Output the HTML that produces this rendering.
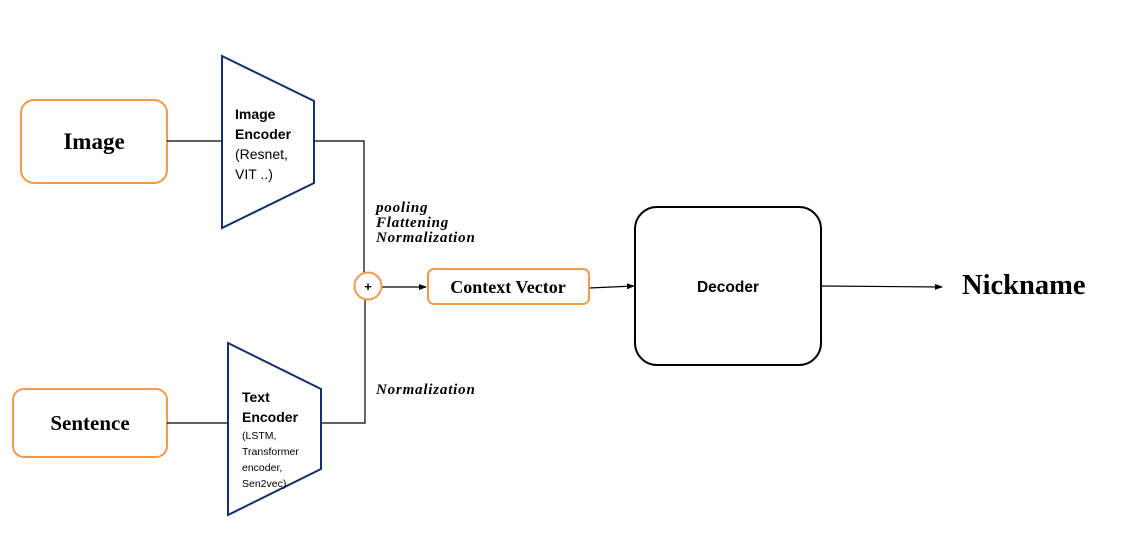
<!DOCTYPE html>
<html><head><meta charset="utf-8"><style>
html,body{margin:0;padding:0;background:#fff;width:1123px;height:545px;overflow:hidden}
svg{display:block}
.serif{font-family:"Liberation Serif",serif;font-weight:bold}
.sans{font-family:"Liberation Sans",sans-serif}
</style></head><body>
<svg width="1123" height="545" viewBox="0 0 1123 545" xmlns="http://www.w3.org/2000/svg">
<defs><marker id="a" markerWidth="8" markerHeight="6" refX="7" refY="3" orient="auto" markerUnits="userSpaceOnUse"><path d="M0,0 L8,3 L0,6 z" fill="#000"/></marker></defs>
<rect x="21" y="100" width="146" height="83" rx="13" fill="#fff" stroke="#f39a4a" stroke-width="2"/>
<text x="94" y="149" class="serif" font-size="23" text-anchor="middle">Image</text>
<rect x="13" y="389" width="154" height="68" rx="11" fill="#fff" stroke="#f39a4a" stroke-width="2"/>
<text x="90" y="430" class="serif" font-size="21" text-anchor="middle">Sentence</text>
<g stroke="#000" stroke-width="1.2" fill="none">
<line x1="167" y1="141" x2="222" y2="141"/>
<polyline points="314,141 364,141 364,273"/>
<line x1="167" y1="423" x2="228" y2="423"/>
<polyline points="321,423 365,423 365,299"/>
<line x1="382" y1="287" x2="426" y2="287" marker-end="url(#a)"/>
<line x1="589" y1="288" x2="634" y2="286" marker-end="url(#a)"/>
<line x1="821" y1="286" x2="942" y2="287" marker-end="url(#a)"/>
</g>
<polygon points="222,56 314,101 314,183 222,228" fill="#fff" stroke="#14306a" stroke-width="2"/>
<text class="sans" font-size="14" font-weight="bold"><tspan x="235" y="119">Image</tspan><tspan x="235" y="139">Encoder</tspan></text>
<text class="sans" font-size="14"><tspan x="235" y="159">(Resnet,</tspan><tspan x="235" y="179">VIT ..)</tspan></text>
<polygon points="228,343 321,389 321,469 228,515" fill="#fff" stroke="#14306a" stroke-width="2"/>
<text class="sans" font-size="14" font-weight="bold"><tspan x="242" y="402">Text</tspan><tspan x="242" y="422">Encoder</tspan></text>
<text class="sans" font-size="10.5"><tspan x="242" y="439">(LSTM,</tspan><tspan x="242" y="455">Transformer</tspan><tspan x="242" y="471">encoder,</tspan><tspan x="242" y="487">Sen2vec)</tspan></text>
<text class="serif" font-size="15" font-style="italic" letter-spacing="0.8"><tspan x="376" y="212">pooling</tspan><tspan x="376" y="227">Flattening</tspan><tspan x="376" y="242">Normalization</tspan></text>
<text class="serif" font-size="15" font-style="italic" letter-spacing="0.8" x="376" y="394">Normalization</text>
<circle cx="368" cy="286" r="13.5" fill="#fff" stroke="#f39a4a" stroke-width="2"/>
<text x="368" y="291" class="sans" font-size="13" font-weight="bold" text-anchor="middle">+</text>
<rect x="428" y="269" width="161" height="35" rx="6" fill="#fff" stroke="#f39a4a" stroke-width="2"/>
<text x="508" y="293" class="serif" font-size="18" text-anchor="middle">Context Vector</text>
<rect x="635" y="207" width="186" height="158" rx="22" fill="#fff" stroke="#000" stroke-width="2"/>
<text x="728" y="292" class="sans" font-size="15.5" font-weight="bold" text-anchor="middle">Decoder</text>
<text x="962" y="294" class="serif" font-size="28.5">Nickname</text>
</svg>
</body></html>
